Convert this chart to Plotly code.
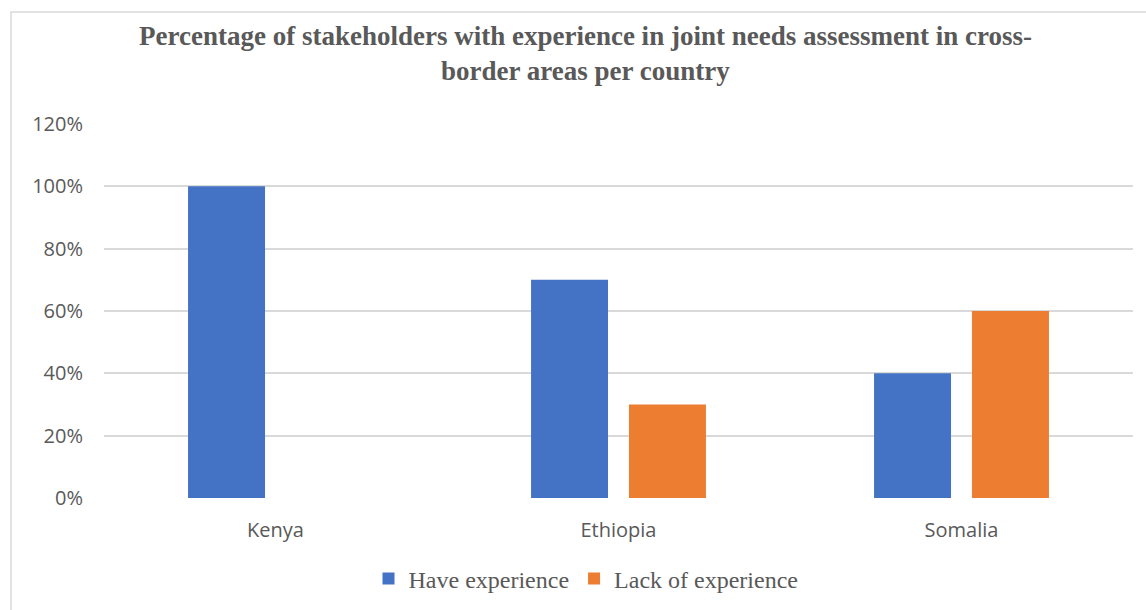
import plotly.graph_objects as go

# Survey results per country (percent of stakeholders)
countries = ["Kenya", "Ethiopia", "Somalia"]
have_experience = [100, 70, 40]
lack_experience = [0, 30, 60]
y_ticks = [0, 20, 40, 60, 80, 100, 120]
y_tick_labels = ["0%", "20%", "40%", "60%", "80%", "100%", "120%"]

W, H = 1146, 610
L, R, T, B = 104, 13, 124, 112
pw, ph = W - L - R, H - T - B

fig = go.Figure()
fig.add_trace(go.Bar(name="Have experience", x=countries, y=have_experience,
                     marker=dict(color="#4472C4", line=dict(width=0))))
fig.add_trace(go.Bar(name="Lack of experience", x=countries, y=lack_experience,
                     marker=dict(color="#ED7D31", line=dict(width=0))))

def px_x(x):
    return (x - L) / pw

def px_y(y):
    return (H - B - y) / ph

fig.update_layout(
    width=W, height=H,
    margin=dict(l=L, r=R, t=T, b=B, autoexpand=False),
    paper_bgcolor="white", plot_bgcolor="white",
    barmode="group", bargap=0.429, bargroupgap=0.214,
    showlegend=True,
    legend=dict(orientation="h", x=px_x(586), xanchor="center",
                y=px_y(579), yanchor="middle",
                font=dict(family="Liberation Serif", size=24, color="#595959"),
                itemwidth=30, tracegroupgap=0),
    xaxis=dict(showgrid=False, showline=False, ticks="", ticklabelstandoff=18,
               tickfont=dict(family="Open Sans", size=20, color="#595959")),
    yaxis=dict(range=[0, 120], tickvals=y_ticks, ticktext=y_tick_labels,
               showgrid=True, gridcolor="#d9d9d9", gridwidth=1.5,
               zeroline=False, showline=False, ticks="", ticklabelstandoff=20,
               tickfont=dict(family="Open Sans", size=20, color="#595959")),
    annotations=[dict(
        text="<b>Percentage of stakeholders with experience in joint needs assessment in cross-<br>border areas per country</b>",
        xref="paper", yref="paper", x=px_x(585), y=px_y(54), xanchor="center", yanchor="middle",
        showarrow=False, align="center",
        font=dict(family="Liberation Serif", size=27, color="#595959"))],
    shapes=[dict(type="rect", xref="paper", yref="paper",
                 x0=px_x(11), x1=px_x(1160), y0=px_y(620), y1=px_y(12),
                 line=dict(color="#d9d9d9", width=1.5), fillcolor="rgba(0,0,0,0)", layer="below")],
)

fig.write_html("out.html")
